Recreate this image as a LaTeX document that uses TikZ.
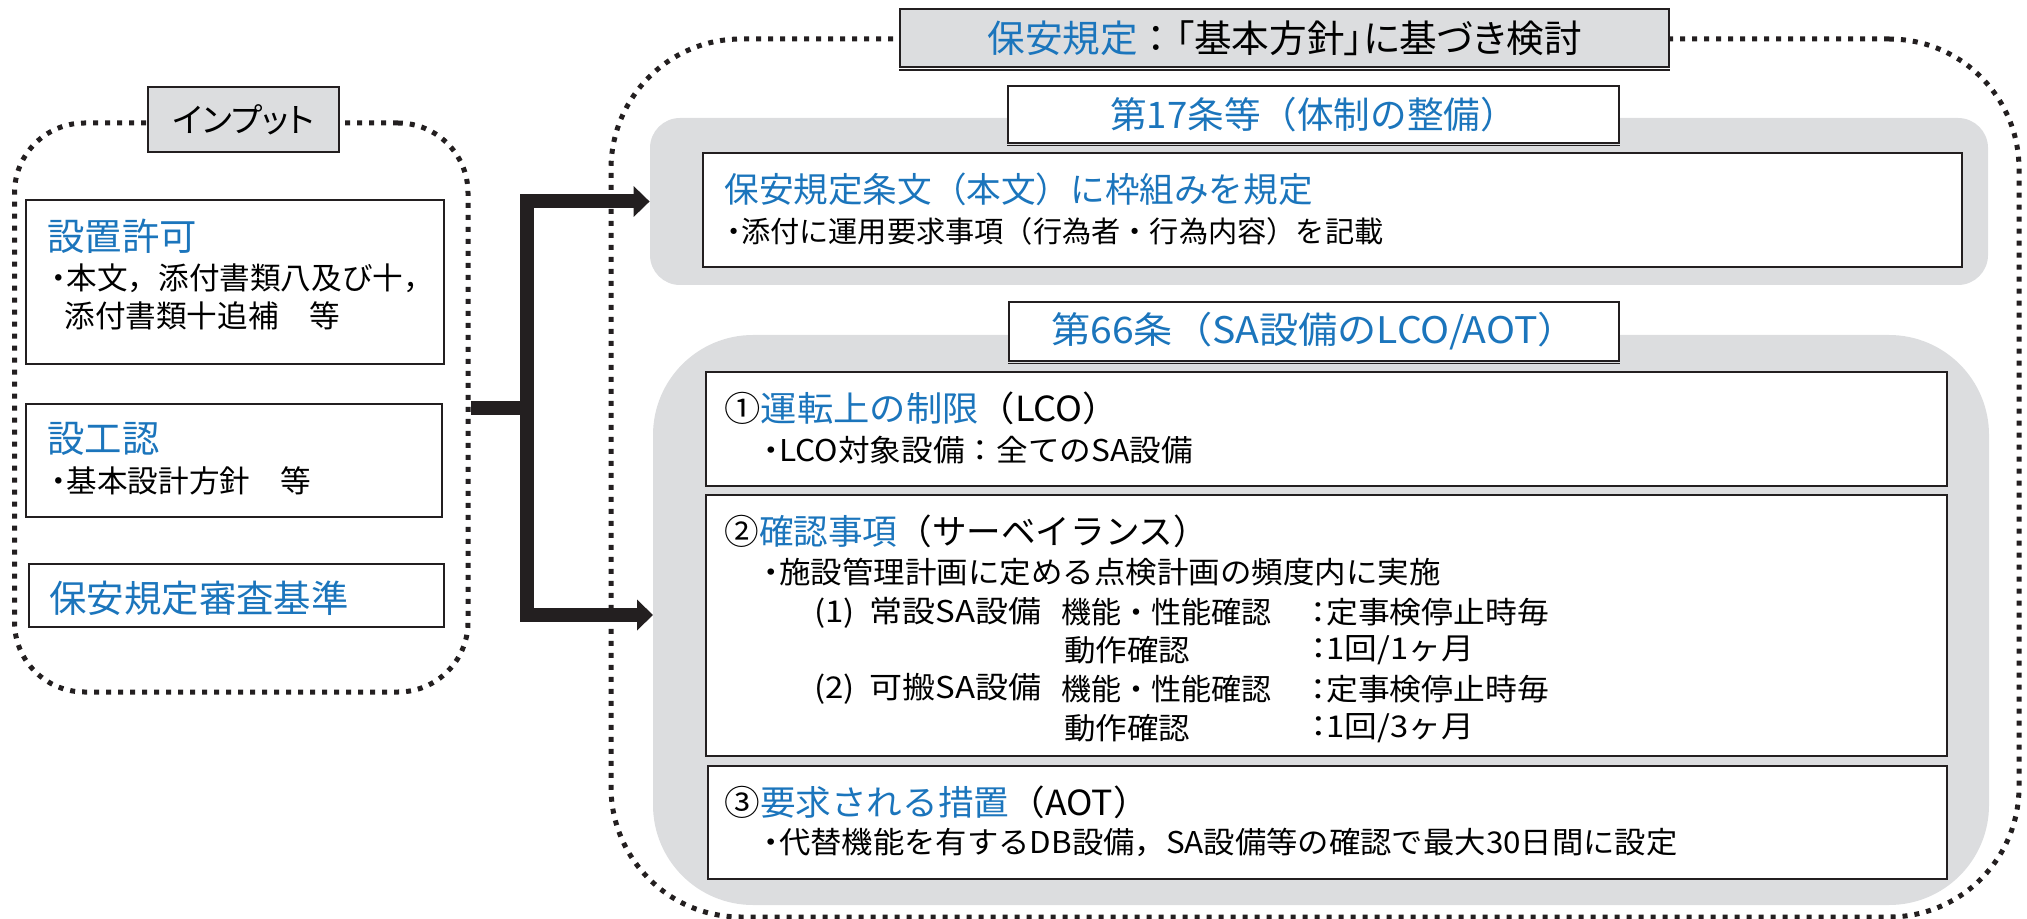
\documentclass[tikz,border=0pt]{standalone}
\usepackage{graphicx}
\usepackage{fontspec}
\setmainfont{Noto Sans CJK JP}
\newfontfamily\paltfont[RawFeature=+palt]{Noto Sans CJK JP}
\newcommand{\bul}{{\paltfont ・}}
\newcommand{\pcolon}{{\paltfont ：}}
\newcommand{\hs}[2]{\scalebox{#1}[1]{#2}}
\usetikzlibrary{arrows.meta,fit}
\definecolor{jblue}{RGB}{27,117,188}
\definecolor{panel}{RGB}{220,221,223}
\definecolor{edge}{RGB}{35,31,32}
\begin{document}
\begin{tikzpicture}[x=0.5pt,y=-0.5pt,
  dotbox/.style={draw=edge, line width=2.5pt, dash pattern=on 2.5pt off 3.5pt, inner sep=0pt},
  whitebox/.style={draw=edge, fill=white, line width=1pt, inner sep=0pt},
  labelbox/.style={draw=edge, fill=panel, line width=1.2pt, inner sep=0pt},
  graypanel/.style={fill=panel, inner sep=0pt},
  ltxt/.style={anchor=west, inner sep=0pt, font=\fontsize{15.3pt}{18pt}\selectfont},
  txt/.style={anchor=west, inner sep=0pt, font=\fontsize{15pt}{18pt}\selectfont},
  lhead/.style={anchor=west, inner sep=0pt, text=jblue, font=\fontsize{18.7pt}{21pt}\selectfont},
  rhead/.style={anchor=west, inner sep=0pt, font=\fontsize{17.3pt}{20pt}\selectfont},
  ctitle/.style={inner sep=0pt, font=\fontsize{18.3pt}{21pt}\selectfont},
  conn/.style={line width=7pt, draw=edge, line join=miter},
  baseline/.style={draw=edge, line width=0.8pt}
]
\useasboundingbox (0,0) rectangle (2027,919);

% ---------- left: input ----------
\node[dotbox, rounded corners=35pt, fit={(14.5,123) (468,692)}] (inbox) {};
\node[labelbox, fit={(148,87) (339,152)}] (inlabel) {};
\node[ctitle, font=\fontsize{16.8pt}{20pt}\paltfont] at (inlabel.center) {インプット};

\node[whitebox, fit={(26,200) (444,364)}] (b1) {};
\node[whitebox, fit={(26,404) (442,517)}] (b2) {};
\node[whitebox, fit={(29,564) (444,627)}] (b3) {};

\node[lhead] (b1h) at (47,236) {設置許可};
\node[ltxt] (b1t1) at (51,278) {\bul 本文，添付書類八及び十，};
\node[ltxt] (b1t2) at (64,315.5) {添付書類十追補　等};
\node[lhead] (b2h) at (47,439) {設工認};
\node[ltxt] (b2t) at (51,481) {\bul 基本設計方針　等};
\node[lhead] (b3h) at (49,598.5) {保安規定審査基準};

% ---------- right: hoan kitei ----------
\node[dotbox, rounded corners=65pt, fit={(611,39) (2019,917)}] (outbox) {};
\node[labelbox, fit={(900,9) (1669,67)}] (title) {};
\draw[baseline] ([yshift=-0.9pt]title.south west) -- ([yshift=-0.9pt]title.south east);
\node[ctitle, font=\fontsize{18.8pt}{21pt}\paltfont] at (title.center) {\textcolor{jblue}{保安規定}{\rmfamily ：}「基本方針」に基づき検討};

\node[graypanel, rounded corners=15pt, fit={(650,118) (1988,285)}] (g1) {};
\node[whitebox, fit={(1008,86) (1619,143)}] (g1label) {};
\draw[baseline] ([yshift=-0.8pt]g1label.south west) -- ([yshift=-0.8pt]g1label.south east);
\node[ctitle, text=jblue] at (g1label.center) {第17条等（体制の整備）};
\node[whitebox, fit={(703,153) (1962,267)}] (r1) {};
\node[rhead, text=jblue] at (724,189) {保安規定条文（本文）に枠組みを規定};
\node[txt, font=\fontsize{14.6pt}{18pt}\selectfont] at (726,231.5) {\bul 添付に運用要求事項（行為者・行為内容）を記載};

\node[graypanel, rounded corners=50pt, fit={(653,335) (1989,905)}] (g2) {};
\node[whitebox, fit={(1009,302) (1619,361)}] (g2label) {};
\draw[baseline] ([yshift=-0.8pt]g2label.south west) -- ([yshift=-0.8pt]g2label.south east);
\node[ctitle, text=jblue] at (g2label.center) {\hs{1.07}{第66条（SA設備のLCO/AOT）}};

\node[whitebox, fit={(706,372) (1947,486)}] (s1) {};
\node[rhead] at (724,408.5) {\hs{1.05}{①\textcolor{jblue}{運転上の制限}（LCO）}};
\node[txt] at (763,450) {\hs{1.055}{\bul LCO対象設備：全てのSA設備}};

\node[whitebox, fit={(706,495) (1947,756)}] (s2) {};
\node[rhead] at (724,531.5) {②\textcolor{jblue}{確認事項}（サーベイランス）};
\node[txt] at (763,572.5) {\hs{1.05}{\bul 施設管理計画に定める点検計画の頻度内に実施}};
\node[txt] at (814,612.5) {\hs{1.1}{(1)\hspace{0.45em}常設SA設備}};
\node[txt] at (1061,612.5) {機能・性能確認};
\node[txt] at (1310,612.5) {\hs{1.06}{\pcolon 定事検停止時毎}};
\node[txt] at (1064,650) {\hs{1.05}{動作確認}};
\node[txt] at (1310,650) {\hs{1.09}{\pcolon 1回/1ヶ月}};
\node[txt] at (814,689) {\hs{1.1}{(2)\hspace{0.45em}可搬SA設備}};
\node[txt] at (1061,689) {機能・性能確認};
\node[txt] at (1310,689) {\hs{1.06}{\pcolon 定事検停止時毎}};
\node[txt] at (1064,728.5) {\hs{1.05}{動作確認}};
\node[txt] at (1310,728.5) {\hs{1.09}{\pcolon 1回/3ヶ月}};

\node[whitebox, fit={(708,766) (1947,879)}] (s3) {};
\node[rhead] at (724,802.5) {\hs{1.03}{③\textcolor{jblue}{要求される措置}（AOT）}};
\node[txt] at (763,842.5) {\hs{1.045}{\bul 代替機能を有するDB設備，SA設備等の確認で最大30日間に設定}};

% ---------- connectors ----------
\coordinate (j) at (527,407.5);
\coordinate (t2) at (653,615);
\draw[conn] (inbox.east) -- (j);
\draw[conn, {Triangle[length=8pt,width=15pt]}-{Triangle[length=8pt,width=15pt]}]
  (g1.west) -- (g1.west -| j) -- (t2 -| j) -- (t2);
\end{tikzpicture}
\end{document}
